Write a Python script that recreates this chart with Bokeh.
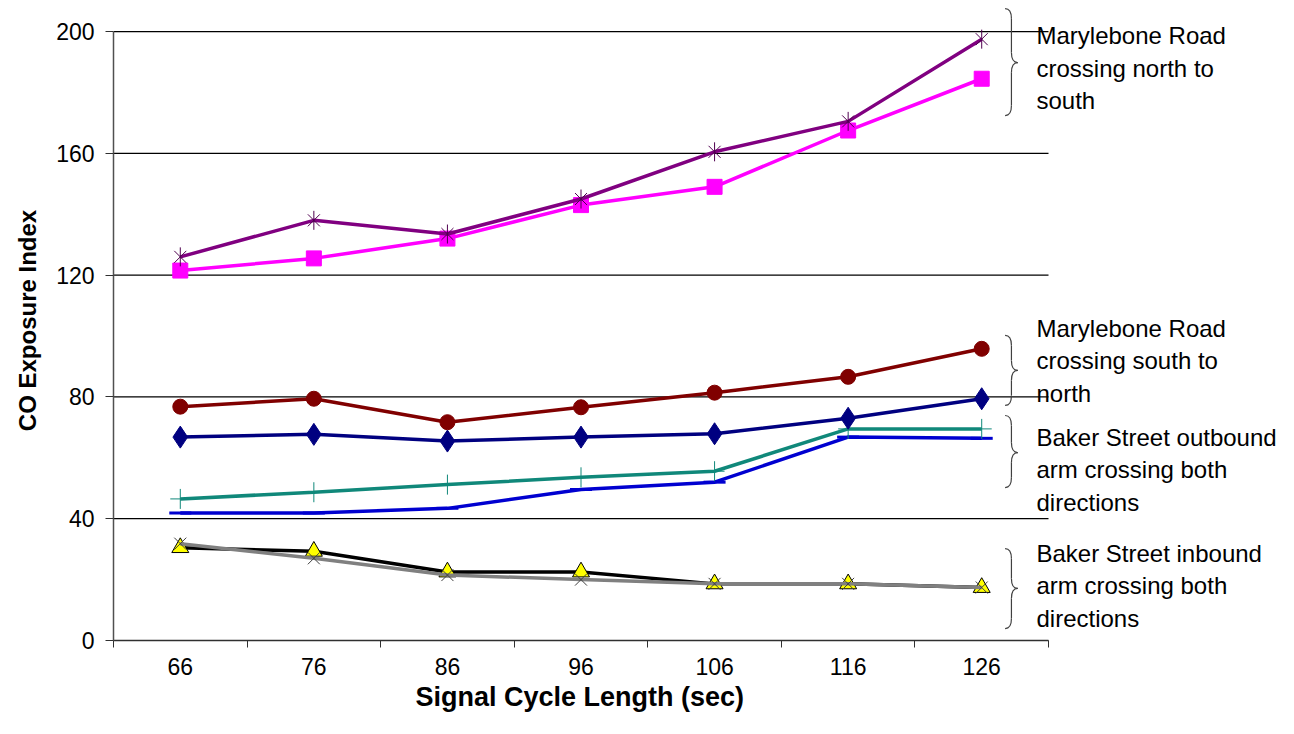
import math
from bokeh.plotting import figure
from bokeh.models import Range1d, FixedTicker, Label, Title
from bokeh.embed import file_html
from bokeh.resources import INLINE

# ---- data ----
cycles = [66, 76, 86, 96, 106, 116, 126]
y_ticks = [0, 40, 80, 120, 160, 200]

mr_ns_star = [126, 138, 133.5, 145, 160.5, 170.5, 197.5]
mr_ns_square = [121.5, 125.5, 132, 143, 149, 167.5, 184.5]
mr_sn_circle = [76.8, 79.4, 71.7, 76.6, 81.4, 86.6, 95.8]
bs_out_diamond = [66.8, 67.7, 65.5, 66.8, 67.9, 73.0, 79.4]
bs_out_plus = [46.5, 48.7, 51.2, 53.6, 55.6, 69.5, 69.5]
bs_out_blue = [41.9, 41.9, 43.4, 49.6, 52.0, 66.8, 66.4]
bs_in_triangle = [30.5, 29.3, 22.5, 22.5, 18.6, 18.6, 17.4]
bs_in_x = [31.8, 27.0, 21.5, 20.0, 18.6, 18.6, 17.4]

notes = [
    ["Marylebone Road", "crossing north to", "south"],
    ["Marylebone Road", "crossing south to", "north"],
    ["Baker Street outbound", "arm crossing both", "directions"],
    ["Baker Street inbound", "arm crossing both", "directions"],
]
# (top, bottom, tip) of each brace in data units, first text line y
brace_spans = [(207.5, 172.4, 189.8), (100.2, 77.2, 88.7), (73.9, 50.2, 61.7), (30.2, 3.9, 17.1)]
note_first_y = [198.7, 102.6, 66.7, 28.6]
line_step = 10.7

FONT = "Liberation Sans"

x_lo, x_hi = cycles[0] - 5, cycles[-1] + 5          # category area 61..131
plot_px = 935                                         # pixel width of category area
right_px = 246                                        # space for notes
x_end = x_hi + right_px * (x_hi - x_lo) / plot_px     # extend frame to page edge

p = figure(width=1294, height=734, x_range=Range1d(x_lo, x_end), y_range=Range1d(0, 210.2),
           output_backend="svg", toolbar_location=None,
           min_border_left=113, min_border_right=0, min_border_top=0, min_border_bottom=94)
p.outline_line_color = None
p.background_fill_color = "white"
p.border_fill_color = "white"

# grid (drawn as segments so they stop at the category area)
p.xgrid.visible = False
p.ygrid.visible = False
p.segment(x0=[x_lo] * len(y_ticks), y0=y_ticks, x1=[x_hi] * len(y_ticks), y1=y_ticks,
          line_color="black", line_width=1.2)

# y axis
p.yaxis.ticker = FixedTicker(ticks=y_ticks)
p.yaxis.bounds = (0, 200)
p.yaxis.axis_line_color = "#505050"
p.yaxis.axis_line_width = 1.5
p.yaxis.major_tick_out = 8
p.yaxis.major_tick_in = 0
p.yaxis.minor_tick_line_color = None
p.yaxis.major_tick_line_color = "#303030"
p.yaxis.major_label_standoff = 11
p.yaxis.major_label_text_font = FONT
p.yaxis.major_label_text_font_size = "23px"
p.yaxis.major_label_text_color = "black"
p.yaxis.axis_label = "CO Exposure Index"
p.yaxis.axis_label_text_font = FONT
p.yaxis.axis_label_text_font_style = "bold"
p.yaxis.axis_label_text_font_size = "24px"
p.yaxis.axis_label_text_color = "black"
p.yaxis.axis_label_standoff = 12

# x axis
boundaries = [c - 5 for c in cycles] + [cycles[-1] + 5]
p.xaxis.ticker = FixedTicker(ticks=cycles, minor_ticks=boundaries)
p.xaxis.bounds = (x_lo, x_hi)
p.xaxis.axis_line_color = "#303030"
p.xaxis.axis_line_width = 1.5
p.xaxis.major_tick_out = 0
p.xaxis.major_tick_in = 0
p.xaxis.minor_tick_out = 7
p.xaxis.minor_tick_in = 0
p.xaxis.minor_tick_line_color = "#303030"
p.xaxis.major_label_standoff = 10
p.xaxis.major_label_text_font = FONT
p.xaxis.major_label_text_font_size = "23px"
p.xaxis.major_label_text_color = "black"

# x axis title, centred on the category area rather than the whole frame
p.add_layout(Title(text="Signal Cycle Length (sec)", align="left", offset=302,
                   text_font=FONT, text_font_style="bold", text_font_size="27px",
                   text_color="black", standoff=4), "below")

# ---- series ----
# Baker Street inbound
p.line(cycles, bs_in_triangle, line_color="black", line_width=3.5)
p.scatter(cycles, bs_in_triangle, marker="triangle", size=17, fill_color="#FFFF00",
          line_color="black", line_width=1)
p.line(cycles, bs_in_x, line_color="#808080", line_width=3.5)
p.scatter(cycles, bs_in_x, marker="x", size=17, line_color="#404040", line_width=1)

# Baker Street outbound
p.line(cycles, bs_out_blue, line_color="#0000D0", line_width=3.5)
p.scatter(cycles, bs_out_blue, marker="dash", size=22, line_color="#0000D0", line_width=3)
p.line(cycles, bs_out_plus, line_color="#10887A", line_width=3.5)
p.scatter(cycles, bs_out_plus, marker="cross", size=20, line_color="#10887A", line_width=1)
p.line(cycles, bs_out_diamond, line_color="#000080", line_width=3.5)
p.scatter(cycles, bs_out_diamond, marker="diamond", size=22, fill_color="#000080",
          line_color="#000080")

# Marylebone south to north
p.line(cycles, mr_sn_circle, line_color="#800000", line_width=3.5)
p.scatter(cycles, mr_sn_circle, marker="circle", size=15, fill_color="#800000",
          line_color="#800000")

# Marylebone north to south
p.line(cycles, mr_ns_square, line_color="#FF00FF", line_width=3.5)
p.scatter(cycles, mr_ns_square, marker="square", size=15, fill_color="#FF00FF",
          line_color="#FF00FF")
p.line(cycles, mr_ns_star, line_color="#800080", line_width=3.5)
p.scatter(cycles, mr_ns_star, marker="x", size=17, line_color="#500050", line_width=1)
p.scatter(cycles, mr_ns_star, marker="dash", size=19, angle=math.pi / 2,
          line_color="#500050", line_width=1)

# ---- braces and notes ----
bx0 = 127.75
bw = 0.95
r = 3.3
for (top, bot, tip) in brace_spans:
    xm = bx0 + bw / 2
    p.quadratic(x0=[bx0], y0=[top], x1=[xm], y1=[top - r], cx=[xm], cy=[top],
                line_color="#404040", line_width=1.2)
    p.segment(x0=[xm], y0=[top - r], x1=[xm], y1=[tip + r], line_color="#404040", line_width=1.2)
    p.quadratic(x0=[xm], y0=[tip + r], x1=[bx0 + bw], y1=[tip], cx=[xm], cy=[tip],
                line_color="#404040", line_width=1.2)
    p.quadratic(x0=[bx0 + bw], y0=[tip], x1=[xm], y1=[tip - r], cx=[xm], cy=[tip],
                line_color="#404040", line_width=1.2)
    p.segment(x0=[xm], y0=[tip - r], x1=[xm], y1=[bot + r], line_color="#404040", line_width=1.2)
    p.quadratic(x0=[xm], y0=[bot + r], x1=[bx0], y1=[bot], cx=[xm], cy=[bot],
                line_color="#404040", line_width=1.2)

for lines, y0 in zip(notes, note_first_y):
    for i, t in enumerate(lines):
        p.add_layout(Label(x=130.1, y=y0 - i * line_step, text=t, text_font=FONT,
                           text_font_size="24px", text_color="black",
                           text_baseline="middle", text_align="left"))

open("out.html", "w").write(file_html(p, INLINE))
